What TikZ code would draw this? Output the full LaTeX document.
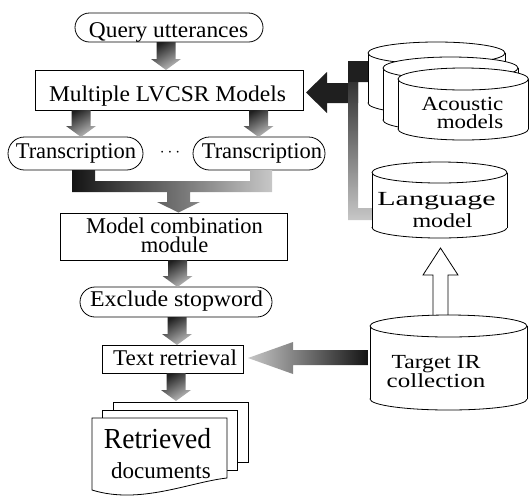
\documentclass[tikz,border=0pt]{standalone}
\usepackage{fontspec}
\setmainfont{Liberation Serif}
\usetikzlibrary{shapes.misc}
\newcommand\cyl[6]{% name L R T B ry
  \pgfmathsetmacro\cylcx{(#2+#3)/2}%
  \pgfmathsetmacro\cylrx{(#3-#2)/2}%
  \draw[fill=white] (\cylcx,{#5-#6}) ellipse[x radius=\cylrx pt, y radius=#6 pt];
  \fill[white] (#2,{#4+#6}) rectangle (#3,{#5-#6});
  \draw (#2,{#4+#6}) -- (#2,{#5-#6});
  \draw (#3,{#4+#6}) -- (#3,{#5-#6});
  \draw[fill=white] (\cylcx,{#4+#6}) ellipse[x radius=\cylrx pt, y radius=#6 pt];
  \coordinate (#1) at (\cylcx,{(#4+#5)/2});
}
\newcommand\darr[3]{% cx top tip
  \shade[garrow] ({#1-9.5},#2) -- ({#1+9.5},#2) -- ({#1+9.5},{#3-11}) -- ({#1+15},{#3-11})
    -- (#1,#3) -- ({#1-15},{#3-11}) -- ({#1-9.5},{#3-11}) -- cycle;
}
\newcommand\wide[2]{\scalebox{#1}[1]{#2}}
\begin{document}
\begin{tikzpicture}[x=1pt,y=-1pt,line width=0.8pt,
  box/.style={draw, rectangle, fill=white, inner sep=0},
  oval/.style={draw, rounded rectangle, fill=white, inner sep=0},
  lt/.style={font=\fontsize{22.5}{22}\selectfont, inner sep=0, anchor=base},
  rt/.style={font=\fontsize{20}{20}\selectfont, inner sep=0, anchor=base},
  garrow/.style={top color=black!88, bottom color=black!25, shading angle=30}]
\useasboundingbox (0,0) rectangle (529,499);

% ---- left column shapes
\node[oval, minimum width=188pt, minimum height=29pt] (q) at (169,27.5) {};
\node[box, minimum width=268pt, minimum height=40pt] (lv) at (169,90) {};
\node[oval, minimum width=135pt, minimum height=33pt] (t1) at (75.5,153.5) {};
\node[oval, minimum width=132pt, minimum height=33pt] (t2) at (259,153.5) {};
\node[box, minimum width=227pt, minimum height=47pt] (mc) at (173.5,236.5) {};
\node[oval, minimum width=192pt, minimum height=30pt] (ex) at (176,302) {};
\node[box, minimum width=141pt, minimum height=28pt] (tr) at (172.5,359) {};

% ---- texts
\node[lt] (qt) at (168.5,37) {\wide{1.04}{Query utterances}};
\node[lt] (lvt) at (167.5,101.5) {\wide{1.045}{Multiple LVCSR Models}};
\node[lt] (t1t) at (76,158) {Transcription};
\node[lt] (t2t) at (262,158) {Transcription};
\node (dots) at (170,153) {\fontsize{18}{18}\selectfont$\cdots$};
\node[lt] (mct1) at (174.5,233) {Model combination};
\node[lt] (mct2) at (174.5,252) {module};
\node[lt] (ext) at (176.5,306.5) {\wide{1.06}{Exclude stopword}};
\node[lt] (trt) at (175,365) {\wide{1.03}{Text retrieval}};

% ---- down arrows
\darr{166}{42}{70}
\darr{81}{110}{137}
\darr{258.5}{110}{137}
\darr{177.5}{260}{287}
\darr{177}{317}{345}
\darr{176}{373}{401}

% ---- merge connector
\shade[left color=black!92, right color=black!22]
  (72,170) -- (95,170) -- (95,181) -- (250,181) -- (250,170) -- (272,170) -- (272,192)
  -- (190,192) -- (190,202) -- (200,202) -- (178.5,212.5) -- (157,202) -- (167,202)
  -- (167,192) -- (72,192) -- cycle;

% ---- documents
\draw[fill=white] (113,402) rectangle (248,462);
\draw[fill=white] (102,410) rectangle (237,470);
\draw[fill=white] (92,418) -- (227,418) -- (227,478) .. controls (190,482) and (140,505) .. (92,490) -- cycle;
\coordinate (docs) at (160,450);
\node[anchor=base, inner sep=0, font=\fontsize{29}{29}\selectfont] (rd1) at (157.5,448) {\wide{0.95}{Retrieved}};
\node[anchor=base, inner sep=0, font=\fontsize{23}{23}\selectfont] (rd2) at (161,478) {documents};

% ---- black arrow from acoustic models
\fill[black!88] (368,61) -- (348,61) -- (348,83) -- (327,83) -- (327,72) -- (306,92.5)
  -- (327,113) -- (327,103) -- (358,103) -- (358,82) -- (368,82) -- cycle;
% grey arrow from language model
\shade[top color=black!80, bottom color=black!22]
  (348,82) -- (358,82) -- (358,208) -- (372,208) -- (372,220) -- (348,220) -- cycle;

% ---- cylinders
\cyl{ac1}{368}{505}{42}{114}{11}
\cyl{ac2}{383}{518}{57}{131}{11}
\cyl{ac3}{398}{528.4}{68}{140}{11}
\node[rt] (act1) at (462.5,110) {\wide{1.15}{Acoustic}};
\node[rt] (act2) at (470,128) {\wide{1.15}{models}};

\cyl{lm}{372}{507}{162}{238}{10.5}
\node[rt] (lmt1) at (436.5,205) {\wide{1.5}{Language}};
\node[rt] (lmt2) at (442.5,227) {\wide{1.2}{model}};

% hollow arrow
\draw[fill=white] (433,318) -- (433,275) -- (423,275) -- (440.5,248) -- (458,275) -- (448,275) -- (448,318) -- cycle;

\cyl{ir}{370}{527}{315}{410}{11}
\node[rt] (irt1) at (436,368) {\wide{1.18}{Target IR}};
\node[rt] (irt2) at (436,387) {\wide{1.25}{collection}};

% ---- arrow from target IR to text retrieval
\shade[left color=black!22, right color=black!92]
  (368,350) -- (293,350) -- (293,342) -- (248,358) -- (293,374) -- (293,365) -- (368,365) -- cycle;
\end{tikzpicture}
\end{document}
